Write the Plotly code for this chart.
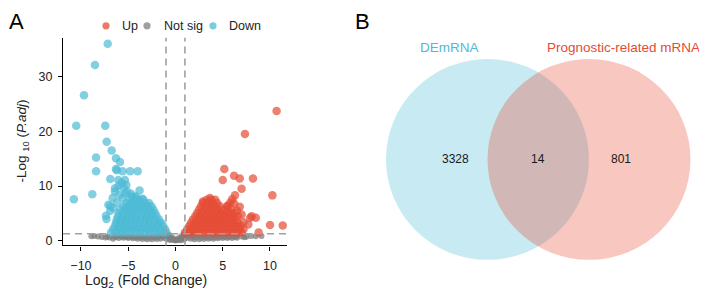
import plotly.graph_objects as go

# ---------------- Volcano data (log2FC, -log10 P.adj) ----------------
down_lfc = [-7.17, -8.52, -9.68, -10.5, -7.43, -7.28, -8.4, -6.75, -6.3, -5.87, -8.4, -6.3, -6.2, -5.6, -4.8, -4.0,
            -6.9, -6.05, -5.35, -5.7, -5.2, -6.0, -5.5, -6.4, -3.8, -10.75, -8.8, -6.4, -6.65, -6.9, -7.1, -7.35,
            -7.3, -6.9, -5.1, -4.7, -5.9, -5.6, -6.2, -6.6, -4.3, -3.5, -5.3,
            -6.8, -6.3, -5.8, -5.3, -4.8, -4.3, -3.8, -3.3, -2.8, -2.3, -1.8, -1.3, -0.95,
            -6.6, -6.1, -5.6, -5.1, -4.6, -4.1, -3.6, -3.1, -2.6, -2.1, -1.6, -1.1,
            -6.4, -5.9, -5.4, -4.9, -4.4, -3.9, -3.4, -2.9, -2.4, -1.9, -1.3,
            -6.3, -5.8, -5.3, -4.8, -4.3, -3.8, -3.3, -2.8, -2.3, -1.8, -1.5,
            -6.2, -5.7, -5.2, -4.7, -4.2, -3.7, -3.2, -2.7, -2.2, -1.75,
            -6.1, -5.6, -5.1, -4.6, -4.1, -3.6, -3.1, -2.6, -2.0,
            -6.0, -5.5, -5.0, -4.5, -4.0, -3.5, -3.0, -2.5, -2.15,
            -5.8, -5.3, -4.8, -4.3, -3.8, -3.3, -2.8, -2.35,
            -5.5, -5.0, -4.5, -4.0, -3.5, -3.0, -2.55,
            -5.2, -4.7, -4.2, -3.7, -3.2, -2.8,
            -4.9, -4.4, -3.9, -3.4,
            -4.6, -4.2]
down_padj = [36.0, 32.1, 26.6, 21.0, 21.0, 18.1, 15.2, 16.5, 15.1, 14.4, 12.7, 13.1, 12.9, 12.7, 12.7, 12.7,
             11.3, 11.1, 11.1, 10.6, 10.2, 10.0, 9.8, 9.6, 9.2, 7.6, 8.5, 9.0, 7.8, 6.3, 6.6, 4.6,
             4.0, 5.5, 9.0, 8.6, 8.4, 7.8, 7.0, 6.0, 7.9, 7.7, 8.7,
             1.5, 1.5, 1.5, 1.5, 1.5, 1.5, 1.5, 1.5, 1.5, 1.5, 1.5, 1.5, 1.5,
             2.1, 2.1, 2.1, 2.1, 2.1, 2.1, 2.1, 2.1, 2.1, 2.1, 2.1, 2.1,
             2.7, 2.7, 2.7, 2.7, 2.7, 2.7, 2.7, 2.7, 2.7, 2.7, 2.7,
             3.3, 3.3, 3.3, 3.3, 3.3, 3.3, 3.3, 3.3, 3.3, 3.3, 3.3,
             3.9, 3.9, 3.9, 3.9, 3.9, 3.9, 3.9, 3.9, 3.9, 3.9,
             4.5, 4.5, 4.5, 4.5, 4.5, 4.5, 4.5, 4.5, 4.5,
             5.1, 5.1, 5.1, 5.1, 5.1, 5.1, 5.1, 5.1, 5.1,
             5.7, 5.7, 5.7, 5.7, 5.7, 5.7, 5.7, 5.7,
             6.3, 6.3, 6.3, 6.3, 6.3, 6.3, 6.3,
             6.9, 6.9, 6.9, 6.9, 6.9, 6.9,
             7.5, 7.5, 7.5, 7.5,
             8.1, 8.1]

up_lfc = [10.7, 7.35, 5.17, 5.0, 6.2, 6.8, 8.2, 7.0, 6.3, 6.0, 10.25, 6.8, 3.65, 2.9, 8.06, 8.5, 7.7, 7.2,
          7.9, 10.0, 11.35, 8.8, 5.8, 5.5, 6.5, 7.0, 6.2,
          1.0, 1.5, 2.0, 2.5, 3.0, 3.5, 4.0, 4.5, 5.0, 5.5, 6.0, 6.5, 7.0,
          1.25, 1.75, 2.25, 2.75, 3.25, 3.75, 4.25, 4.75, 5.25, 5.75, 6.25, 6.75, 7.2,
          1.45, 1.95, 2.45, 2.95, 3.45, 3.95, 4.45, 4.95, 5.45, 5.95, 6.45, 6.9,
          1.65, 2.15, 2.65, 3.15, 3.65, 4.15, 4.65, 5.15, 5.65, 6.15, 6.6,
          1.85, 2.35, 2.85, 3.35, 3.85, 4.35, 4.85, 5.35, 5.85, 6.35,
          2.1, 2.6, 3.1, 3.6, 4.1, 4.6, 5.1, 5.6, 6.1, 6.6,
          2.3, 2.8, 3.3, 3.8, 4.3, 4.8, 5.3, 5.8, 6.2,
          2.5, 3.0, 3.5, 4.0, 4.5, 5.0, 5.5, 5.9,
          2.7, 3.2, 3.7, 4.2, 4.7, 5.5,
          2.9, 3.4, 3.9, 4.4,
          3.3, 3.8, 4.2]
up_padj = [23.7, 19.5, 13.1, 11.1, 11.9, 11.4, 11.4, 9.5, 8.3, 7.6, 8.3, 6.2, 7.8, 7.2, 4.5, 4.2, 3.0, 3.4,
           4.2, 2.9, 2.8, 1.5, 7.0, 6.4, 5.5, 4.8, 6.8,
           1.5, 1.5, 1.5, 1.5, 1.5, 1.5, 1.5, 1.5, 1.5, 1.5, 1.5, 1.5, 1.5,
           2.1, 2.1, 2.1, 2.1, 2.1, 2.1, 2.1, 2.1, 2.1, 2.1, 2.1, 2.1, 2.1,
           2.7, 2.7, 2.7, 2.7, 2.7, 2.7, 2.7, 2.7, 2.7, 2.7, 2.7, 2.7,
           3.3, 3.3, 3.3, 3.3, 3.3, 3.3, 3.3, 3.3, 3.3, 3.3, 3.3,
           3.9, 3.9, 3.9, 3.9, 3.9, 3.9, 3.9, 3.9, 3.9, 3.9,
           4.5, 4.5, 4.5, 4.5, 4.5, 4.5, 4.5, 4.5, 4.5, 4.5,
           5.1, 5.1, 5.1, 5.1, 5.1, 5.1, 5.1, 5.1, 5.1,
           5.7, 5.7, 5.7, 5.7, 5.7, 5.7, 5.7, 5.7,
           6.3, 6.3, 6.3, 6.3, 6.3, 6.3,
           6.9, 6.9, 6.9, 6.9,
           7.5, 7.5, 7.5]

ns_lfc = [-0.9, -0.9, -0.9, -0.9, -0.75, -0.6, -0.6, -0.6, -0.45, -0.3, -0.3, -0.15, 0.0, 0.0, 0.15, 0.3, 0.3,
          0.45, 0.6, 0.6, 0.6, 0.75, 0.9, 0.9, 0.9, 0.9,
          -1.2, -1.2, -1.4, -1.6, -1.6, -1.8, -2.0, -2.0, -2.2, -2.5, -2.5, -2.7, -3.0, -3.0, -3.2, -3.5, -3.5,
          -3.7, -4.0, -4.0, -4.2, -4.5, -4.5, -4.7, -5.0, -5.0, -5.2, -5.5, -5.5, -5.7, -6.0, -6.0, -6.3,
          -6.5, -6.6, -7.0, -7.2, -7.4, -7.8, -8.2, -8.6, -8.9,
          1.2, 1.2, 1.4, 1.6, 1.6, 1.8, 2.0, 2.0, 2.2, 2.5, 2.5, 2.7, 3.0, 3.0, 3.2, 3.5, 3.5, 3.7, 4.0, 4.0,
          4.2, 4.5, 4.5, 4.7, 5.0, 5.0, 5.2, 5.5, 5.5, 5.7, 6.0, 6.0, 6.3, 6.5, 6.5, 7.0, 7.3, 7.5, 8.0, 8.5, 9.1]
ns_padj = [1.2, 0.9, 0.6, 0.3, 0.75, 1.0, 0.5, 0.15, 0.35, 0.55, 0.15, 0.25, 0.2, 0.05, 0.2, 0.45, 0.1,
           0.3, 0.85, 0.45, 0.1, 0.6, 1.2, 0.9, 0.55, 0.25,
           1.1, 0.5, 0.8, 1.0, 0.4, 0.7, 0.9, 0.35, 0.6, 0.8, 0.3, 0.55, 0.75, 0.3, 0.55, 0.8, 0.35,
           0.6, 0.7, 0.4, 0.6, 0.8, 0.45, 0.65, 0.85, 0.5, 0.7, 0.9, 0.55, 0.75, 0.9, 0.5, 0.7,
           0.75, 0.4, 0.6, 0.8, 0.6, 0.7, 0.8, 0.9, 0.85,
           1.1, 0.5, 0.8, 1.0, 0.4, 0.65, 0.9, 0.3, 0.6, 0.85, 0.3, 0.55, 0.8, 0.35, 0.6, 0.8, 0.4, 0.6, 0.75, 0.4,
           0.6, 0.8, 0.45, 0.65, 0.85, 0.5, 0.7, 0.8, 0.5, 0.7, 0.85, 0.5, 0.7, 0.9, 0.55, 0.8, 0.65, 0.75, 0.9, 0.85, 0.9]

fc_cut = 1.0
p_cut = 1.30103  # -log10(0.05)

x_ticks = [-10, -5, 0, 5, 10]
y_ticks = [0, 10, 20, 30]

# ---------------- Venn data ----------------
set_names = ["DEmRNA", "Prognostic-related mRNA"]
venn_counts = [3328, 14, 801]  # DEmRNA only, both, Prognostic only

legend_names = ["Up", "Not sig", "Down"]

RED = "#E64B35"
BLUE = "#4DBBD5"
GRAY = "#7F7F7F"
FONT = "Arial, Liberation Sans, sans-serif"

# The page body adds an 8px margin; the figure is sized so that it still fits the window.
OFF = 8
W, H = 707 - OFF, 293 - OFF


def px(x):
    return (x - OFF) / W


def py(y):
    return 1 - (y - OFF) / H


fig = go.Figure()

fig.add_trace(go.Scatter(x=ns_lfc, y=ns_padj, mode="markers", name="Not sig", showlegend=False,
                         marker=dict(color=GRAY, size=6, opacity=0.75, line=dict(width=0))))
fig.add_trace(go.Scatter(x=down_lfc, y=down_padj, mode="markers", name="Down", showlegend=False,
                         marker=dict(color=BLUE, size=8.5, opacity=0.7, line=dict(width=0))))
fig.add_trace(go.Scatter(x=up_lfc, y=up_padj, mode="markers", name="Up", showlegend=False,
                         marker=dict(color=RED, size=8.5, opacity=0.7, line=dict(width=0))))

# threshold lines
dash_style = dict(color="#A0A0A0", width=1.6, dash="7px,5px")
for v in (-fc_cut, fc_cut):
    fig.add_shape(type="line", xref="x", yref="y domain", x0=v, x1=v, y0=0, y1=1, line=dash_style, layer="above")
fig.add_shape(type="line", xref="x domain", yref="y", x0=0, x1=1, y0=p_cut, y1=p_cut, line=dash_style, layer="above")

# legend (top, horizontal)
leg_marker_x = [106, 147, 213]
leg_text_x = [120, 162, 227]
leg_cols = ["rgba(230,75,53,0.75)", "rgba(127,127,127,0.75)", "rgba(77,187,213,0.75)"]
for name, mx, tx, col in zip(legend_names, leg_marker_x, leg_text_x, leg_cols):
    fig.add_shape(type="circle", xref="paper", yref="paper", xsizemode="pixel", ysizemode="pixel",
                  xanchor=px(mx), yanchor=py(26), x0=-3.6, x1=3.6, y0=-3.6, y1=3.6,
                  fillcolor=col, line=dict(width=0))
    fig.add_annotation(x=px(tx), y=py(26), xref="paper", yref="paper", text=name, showarrow=False,
                       xanchor="left", yanchor="middle", font=dict(size=12.5, color="#222", family=FONT))

# axis titles
fig.add_annotation(x=px(146), y=py(284), xref="paper", yref="paper", text="Log<sub>2</sub> (Fold Change)",
                   showarrow=False, xanchor="center", yanchor="middle",
                   font=dict(size=14, color="#222", family=FONT))
fig.add_annotation(x=px(23), y=py(143), xref="paper", yref="paper", text="-Log <sub>10</sub> (<i>P.adj</i>)",
                   showarrow=False, xanchor="center", yanchor="middle", textangle=-90,
                   font=dict(size=13.5, color="#222", family=FONT))

# Venn circles (layout units, radius 1, centres 1 apart)
venn_cx = [-0.5, 0.5]
venn_r = 1.0
venn_fill = ["rgba(77,187,213,0.31)", "rgba(230,75,53,0.31)"]
for cx, fc in zip(venn_cx, venn_fill):
    fig.add_shape(type="circle", xref="x2", yref="y2", x0=cx - venn_r, x1=cx + venn_r,
                  y0=-venn_r, y1=venn_r, fillcolor=fc, line=dict(width=0), layer="below")

venn_label_x = [-0.87, 0.84]
for name, lx, col in zip(set_names, venn_label_x, [BLUE, RED]):
    fig.add_annotation(x=lx, y=1.113, xref="x2", yref="y2", text=name, showarrow=False,
                       xanchor="center", font=dict(size=13.5, color=col, family=FONT))
count_x = [-0.82, 0.0, 0.815]
for cnt, cx in zip(venn_counts, count_x):
    fig.add_annotation(x=cx, y=0.0, xref="x2", yref="y2", text=str(cnt), showarrow=False,
                       xanchor="center", font=dict(size=12, color="#1a1a1a", family=FONT))

# panel labels (kept just inside the top edge of the figure)
fig.add_annotation(x=0.0, y=1.0, xref="paper", yref="paper", text="A", showarrow=False,
                   xanchor="left", yanchor="top", borderpad=0,
                   font=dict(size=22, color="black", family=FONT))
fig.add_annotation(x=px(362), y=1.0, xref="paper", yref="paper", text="B", showarrow=False,
                   xanchor="center", yanchor="top", borderpad=0,
                   font=dict(size=22, color="black", family=FONT))

axis_common = dict(showline=True, linecolor="black", linewidth=1.3, ticks="outside", ticklen=4,
                   tickwidth=1.3, tickcolor="black", showgrid=False, zeroline=False,
                   tickfont=dict(size=12.5, color="#222", family=FONT))

# Venn axes: 1 unit = 101.5 px, circle centres midway at x=538.25 px, y=161 px
u = 101.5
x2_dom = [0.5, 1.0]
x2_left_px = OFF + x2_dom[0] * W
x2_right_px = OFF + x2_dom[1] * W

fig.update_layout(
    width=W, height=H,
    margin=dict(l=0, r=0, t=0, b=0),
    paper_bgcolor="white", plot_bgcolor="white",
    font=dict(family=FONT, color="black"),
    showlegend=False,
    xaxis=dict(domain=[px(63), px(287)], range=[-11.9, 11.8], tickvals=x_ticks, ticklabelstandoff=4,
               **axis_common),
    yaxis=dict(domain=[py(248), py(38)], range=[-0.85, 37.1], tickvals=y_ticks, ticklabelstandoff=3,
               **axis_common),
    xaxis2=dict(domain=x2_dom, range=[(x2_left_px - 538.25) / u, (x2_right_px - 538.25) / u],
                visible=False, anchor="y2"),
    yaxis2=dict(domain=[0.0, 1.0], range=[-(293 - 161) / u, (161 - OFF) / u], visible=False, anchor="x2"),
)

fig.write_html("out.html")
